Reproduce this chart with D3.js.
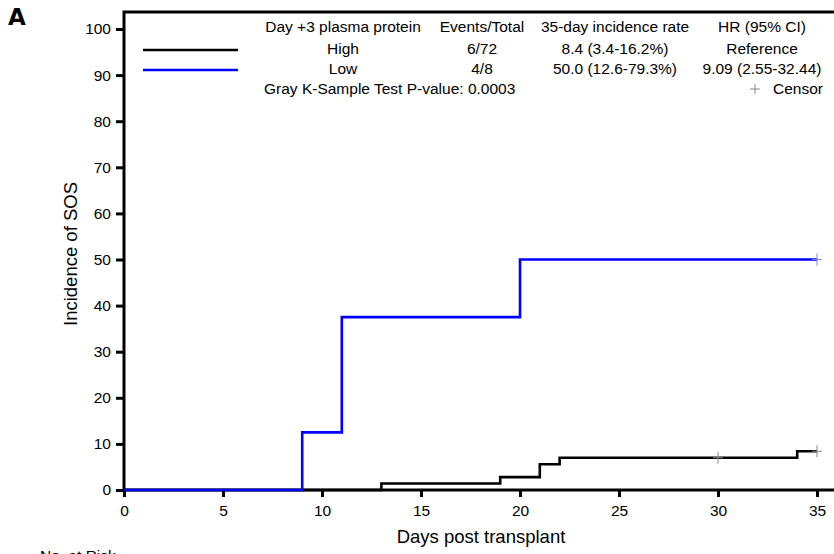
<!DOCTYPE html>
<html>
<head>
<meta charset="utf-8">
<script src="https://cdn.jsdelivr.net/npm/d3@7"></script>
<style>
  body { margin: 0; background: #fff; }
  svg { display: block; font-family: "Liberation Sans", Arial, sans-serif; }
</style>
</head>
<body>
<div id="container"></div>
<script>
/* DATA */
const groups = ["High", "Low"];
const groupColors = ["#000000", "#0000ff"];
const eventsTotal = ["6/72", "4/8"];
const incidenceRate = ["8.4 (3.4-16.2%)", "50.0 (12.6-79.3%)"];
const hazardRatio = ["Reference", "9.09 (2.55-32.44)"];
const legendHeaders = ["Day +3 plasma protein", "Events/Total", "35-day incidence rate", "HR (95% CI)"];
const pValueText = "Gray K-Sample Test P-value: 0.0003";

// step curves (day, cumulative incidence %)
const highDays = [0, 13, 19, 21, 22, 34, 35];
const highInc = [0, 1.4, 2.8, 5.6, 7.0, 8.4, 8.4];
const lowDays = [0, 9, 11, 20, 35];
const lowInc = [0, 12.5, 37.5, 50, 50];

// censor marks
const highCensorDays = [30, 35];
const highCensorInc = [7.0, 8.4];
const lowCensorDays = [35];
const lowCensorInc = [50];

const xTicks = [0, 5, 10, 15, 20, 25, 30, 35];
const yTicks = [0, 10, 20, 30, 40, 50, 60, 70, 80, 90, 100];

/* CONSTANTS */
const width = 834, height = 554;
const plotLeft = 124, plotTop = 12, plotBottom = 490, plotRight = 834;

const svg = d3.select("#container").append("svg")
  .attr("width", width)
  .attr("height", height);

const xScale = d3.scaleLinear().domain([0, 35]).range([plotLeft, 817]);
const yScale = d3.scaleLinear().domain([0, 100]).range([plotBottom, 29]);

// + AXES
const xAxis = svg.append("g")
  .attr("transform", `translate(0,${plotBottom})`)
  .call(d3.axisBottom(xScale).tickValues(xTicks).tickSize(7).tickPadding(8).tickSizeOuter(0));
xAxis.select(".domain").remove();
xAxis.selectAll(".tick line").attr("stroke", "#000").attr("stroke-width", 3);
xAxis.selectAll(".tick text").attr("font-size", 15.5).attr("font-family", "Liberation Sans, Arial, sans-serif").attr("fill", "#000");

const yAxis = svg.append("g")
  .attr("transform", `translate(${plotLeft},0)`)
  .call(d3.axisLeft(yScale).tickValues(yTicks).tickSize(8).tickPadding(5).tickSizeOuter(0));
yAxis.select(".domain").remove();
yAxis.selectAll(".tick line").attr("stroke", "#000").attr("stroke-width", 3);
yAxis.selectAll(".tick text").attr("font-size", 15.5).attr("font-family", "Liberation Sans, Arial, sans-serif").attr("fill", "#000");

// frame lines
svg.append("path")
  .attr("d", `M${plotRight},${plotTop}H${plotLeft}V${plotBottom}H${plotRight}`)
  .attr("fill", "none")
  .attr("stroke", "#000")
  .attr("stroke-width", 3);

// + CURVES
const line = d3.line()
  .x(d => xScale(d[0]))
  .y(d => yScale(d[1]))
  .curve(d3.curveStepAfter);

const series = [
  { days: highDays, inc: highInc, cDays: highCensorDays, cInc: highCensorInc, color: groupColors[0], censorColor: "#888" },
  { days: lowDays, inc: lowInc, cDays: lowCensorDays, cInc: lowCensorInc, color: groupColors[1], censorColor: "#8080ff" }
];

series.forEach(s => {
  svg.append("path")
    .datum(d3.zip(s.days, s.inc))
    .attr("d", line)
    .attr("fill", "none")
    .attr("stroke", s.color)
    .attr("stroke-width", 2.6);

  const c = svg.append("g");
  d3.zip(s.cDays, s.cInc).forEach(d => {
    const cx = xScale(d[0]), cy = yScale(d[1]);
    c.append("path")
      .attr("d", `M${cx - 5},${cy}H${cx + 5}M${cx},${cy - 6}V${cy + 6}`)
      .attr("stroke", s.censorColor)
      .attr("stroke-width", 1);
  });
});

// + LEGEND
const colX = [343, 482, 615, 762];
const headerY = 32, rowY = [54, 74], pY = 94;
const legend = svg.append("g").attr("font-size", 15.5).attr("fill", "#000");

legendHeaders.forEach((h, i) => {
  legend.append("text").attr("x", colX[i]).attr("y", headerY).attr("text-anchor", "middle").text(h);
});

groups.forEach((g, i) => {
  legend.append("line")
    .attr("x1", 143).attr("x2", 238)
    .attr("y1", rowY[i] - 4).attr("y2", rowY[i] - 4)
    .attr("stroke", groupColors[i])
    .attr("stroke-width", 2.6);
  [g, eventsTotal[i], incidenceRate[i], hazardRatio[i]].forEach((t, j) => {
    legend.append("text").attr("x", colX[j]).attr("y", rowY[i]).attr("text-anchor", "middle").text(t);
  });
});

legend.append("text").attr("x", 264).attr("y", pY).text(pValueText);
legend.append("path")
  .attr("d", `M750,${pY - 5}H760M755,${pY - 10}V${pY}`)
  .attr("stroke", "#888").attr("stroke-width", 1);
legend.append("text").attr("x", 773).attr("y", pY).text("Censor");

// + TITLES
svg.append("text")
  .attr("x", 481).attr("y", 543)
  .attr("text-anchor", "middle")
  .attr("font-size", 18.5)
  .text("Days post transplant");

svg.append("text")
  .attr("transform", "translate(77,254) rotate(-90)")
  .attr("text-anchor", "middle")
  .attr("font-size", 18.5)
  .text("Incidence of SOS");

svg.append("text")
  .attr("x", 40).attr("y", 561)
  .attr("font-size", 15.5)
  .text("No. at Risk");

svg.append("text")
  .attr("x", 8).attr("y", 25)
  .attr("font-size", 23)
  .attr("font-weight", "bold")
  .attr("font-family", "DejaVu Sans, sans-serif")
  .text("A");
</script>
</body>
</html>
